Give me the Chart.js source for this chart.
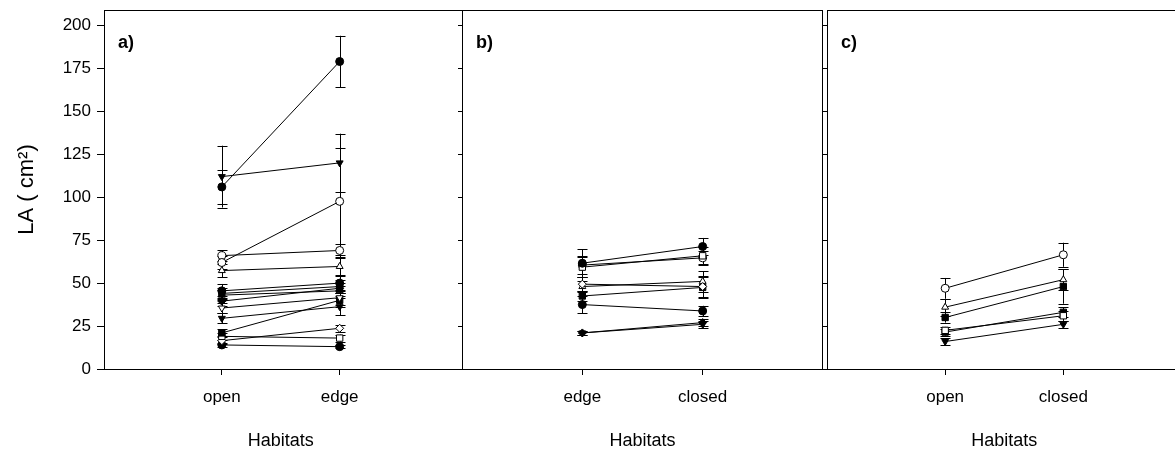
<!DOCTYPE html>
<html>
<head>
<meta charset="utf-8">
<title>LA by habitat</title>
<script src="https://cdn.jsdelivr.net/npm/chart.js@4.4.1/dist/chart.umd.min.js"></script>
<style>
    html, body { margin: 0; padding: 0; background: #fff; overflow: hidden; }
    #wrap { position: relative; width: 1175px; height: 453px; overflow: hidden; }
    .box { position: absolute; top: 0; height: 453px; }
</style>
</head>
<body>
<div id="wrap">
    <div class="box" style="left:0;width:463px"><canvas id="chartA"></canvas></div>
    <div class="box" style="left:440px;width:400px"><canvas id="chartB"></canvas></div>
    <div class="box" style="left:805px;width:382px"><canvas id="chartC"></canvas></div>
</div>
<script>
// tick labels
const yTicks = [0, 25, 50, 75, 100, 125, 150, 175, 200];
const catsA = ['open', 'edge'];
const catsB = ['edge', 'closed'];
const catsC = ['open', 'closed'];

// panel a) : mean LA per species [first habitat, second habitat] and error
const meansA = [[106, 179], [112, 120], [62, 97.6], [66, 69], [57.3, 59.7], [45.5, 50], [44, 48], [43, 45.5],
    [39.5, 47], [35.5, 41.5], [29.5, 36.3], [21, 40], [19, 18], [16.5, 23.7], [14, 13]];
const errA = [[10, 15], [18, 17], [4, 31], [3, 4], [4, 5], [4, 4], [3, 4], [3, 3],
    [3, 3], [3, 4], [3, 5], [2, 4], [2, 2], [2, 2], [1, 1]];
const marksA = ['fc', 'fd', 'oc', 'oc', 'ot', 'fc', 'fs', 'ft', 'fr', 'od', 'fd', 'fs', 'os', 'or', 'fc'];

// panel b)
const meansB = [[61.6, 71.3], [59.3, 65.9], [60.5, 64.7], [49.4, 48], [48, 51], [42.5, 47.5], [37.5, 33.8], [21, 27], [21, 26]];
const errB = [[8, 5], [6, 5], [5, 4], [4, 6], [3, 6], [3, 6], [5, 3], [1, 2], [1, 2]];
const marksB = ['fc', 'os', 'oc', 'or', 'ot', 'fs', 'fc', 'fr', 'fd'];

// panel c)
const meansC = [[47, 66.5], [36, 52], [30, 48], [22.5, 31], [21.5, 33], [16, 26]];
const errC = [[6, 7], [5, 6], [3, 10], [2, 3], [2, 3], [2, 2]];
const marksC = ['oc', 'ot', 'fs', 'os', 'fs', 'fd'];

Chart.defaults.font.family = '"Liberation Sans", Arial, sans-serif';
Chart.defaults.color = '#000';

function markStyle(code) {
    const shapes = { c: 'circle', s: 'rect', t: 'triangle', d: 'triangle', r: 'rectRot' };
    return {
        pointStyle: shapes[code[1]],
        pointRotation: code[1] === 'd' ? 180 : 0,
        pointBackgroundColor: code[0] === 'f' ? '#000' : '#fff',
        pointRadius: code[1] === 's' ? 4.5 : 4
    };
}

// error bars under the points
const errorBars = {
    id: 'errorBars',
    beforeDatasetsDraw(chart) {
        const { ctx, scales: { x, y } } = chart;
        ctx.save();
        ctx.strokeStyle = '#000';
        ctx.lineWidth = 1;
        chart.data.datasets.forEach(ds => {
            ds.data.forEach((p, j) => {
                const px = Math.round(x.getPixelForValue(p.x)) + 0.5;
                const top = y.getPixelForValue(p.y + ds.err[j]);
                const bot = y.getPixelForValue(p.y - ds.err[j]);
                ctx.beginPath();
                ctx.moveTo(px, top); ctx.lineTo(px, bot);
                ctx.moveTo(px - 5, Math.round(top) + 0.5); ctx.lineTo(px + 5, Math.round(top) + 0.5);
                ctx.moveTo(px - 5, Math.round(bot) + 0.5); ctx.lineTo(px + 5, Math.round(bot) + 0.5);
                ctx.stroke();
            });
        });
        ctx.restore();
    }
};

// top border, optional right border and panel letter
const frame = {
    id: 'frame',
    afterDraw(chart, args, opts) {
        const { ctx, chartArea: a } = chart;
        ctx.save();
        ctx.strokeStyle = '#000';
        ctx.lineWidth = 1;
        ctx.beginPath();
        ctx.moveTo(a.left, Math.round(a.top) + 0.5);
        ctx.lineTo(opts.right ? a.right : chart.width, Math.round(a.top) + 0.5);
        if (opts.right) {
            ctx.moveTo(Math.round(a.right) - 0.5, a.top);
            ctx.lineTo(Math.round(a.right) - 0.5, a.bottom);
        }
        ctx.stroke();
        ctx.fillStyle = '#000';
        ctx.font = 'bold 18px "Liberation Sans", Arial, sans-serif';
        ctx.fillText(opts.label, a.left + 14, a.top + 38);
        ctx.restore();
    }
};

function noPad(s) {
    s.paddingTop = 0;
    s.paddingBottom = 0;
    s.paddingLeft = 0;
    s.paddingRight = 0;
}

function makePanel(id, cats, means, errs, marks, opt) {
    const datasets = means.map((m, i) => Object.assign({
        data: m.map((v, j) => ({ x: j + 1, y: v })),
        err: errs[i],
        borderColor: '#000',
        borderWidth: 1,
        pointBorderColor: '#000',
        pointBorderWidth: 1,
        fill: false,
        tension: 0
    }, markStyle(marks[i])));

    return new Chart(document.getElementById(id), {
        type: 'line',
        data: { datasets: datasets },
        options: {
            responsive: true,
            maintainAspectRatio: false,
            animation: false,
            layout: { padding: { top: 10, right: opt.padRight, left: 0, bottom: 0 } },
            plugins: {
                legend: { display: false },
                tooltip: { enabled: false },
                frame: { label: opt.label, right: opt.right }
            },
            scales: {
                x: {
                    type: 'linear',
                    min: 0,
                    max: 3,
                    afterBuildTicks: s => { s.ticks = [{ value: 1 }, { value: 2 }]; },
                    afterFit: s => { s.height = 84; noPad(s); },
                    ticks: {
                        font: { size: 17 },
                        padding: 12,
                        maxRotation: 0,
                        callback: v => cats[v - 1]
                    },
                    grid: { drawOnChartArea: false, drawTicks: true, tickLength: 6, color: '#000' },
                    border: { color: '#000', width: 1 },
                    title: { display: true, text: 'Habitats', font: { size: 18 }, padding: { top: 0, bottom: 1 } }
                },
                y: {
                    min: 0,
                    max: 209,
                    afterBuildTicks: s => { s.ticks = yTicks.map(v => ({ value: v })); },
                    afterFit: s => { s.width = opt.yWidth; noPad(s); },
                    ticks: { display: opt.yLabels, font: { size: 17 }, padding: 6 },
                    grid: { drawOnChartArea: false, drawTicks: true, tickLength: opt.yLabels ? 7 : 4, color: '#000' },
                    border: { color: '#000', width: 1 },
                    title: {
                        display: opt.yLabels,
                        text: 'LA ( cm²)',
                        font: { size: 22 },
                        padding: { top: 14, bottom: 0 }
                    }
                }
            }
        },
        plugins: [errorBars, frame]
    });
}

makePanel('chartA', catsA, meansA, errA, marksA, { label: 'a)', right: false, yLabels: true, yWidth: 104, padRight: 1 });
makePanel('chartB', catsB, meansB, errB, marksB, { label: 'b)', right: true, yLabels: false, yWidth: 22, padRight: 17 });
makePanel('chartC', catsC, meansC, errC, marksC, { label: 'c)', right: false, yLabels: false, yWidth: 22, padRight: 0 });
</script>
</body>
</html>
